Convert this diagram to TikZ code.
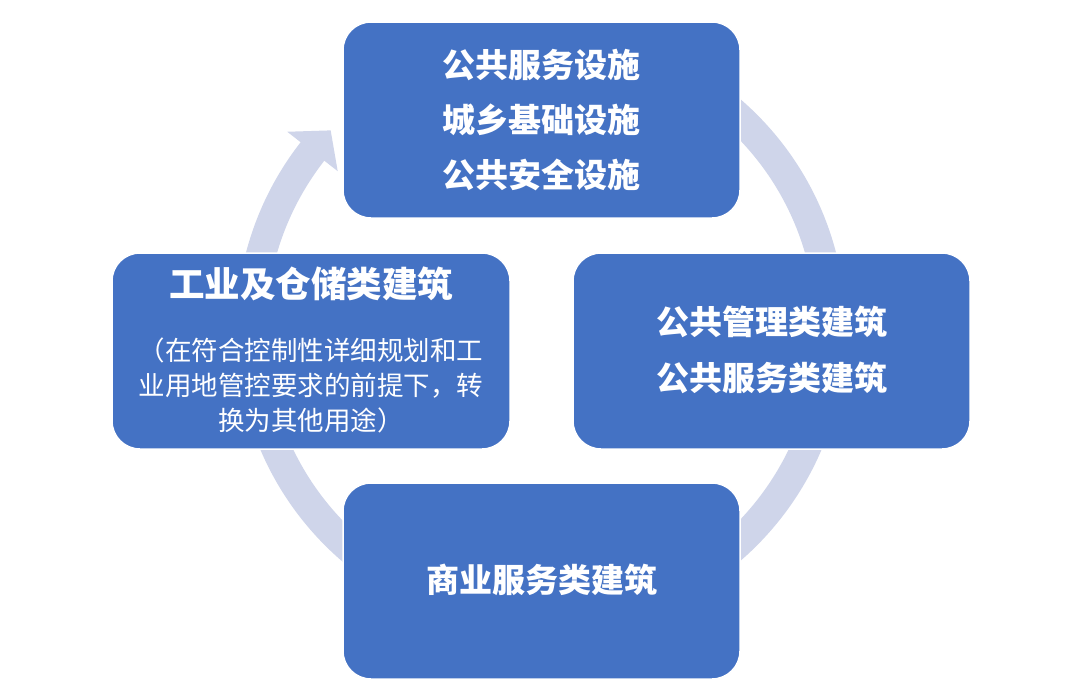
\documentclass[tikz,border=0pt]{standalone}
\usepackage{fontspec}
\setmainfont{Noto Sans CJK SC}
\usetikzlibrary{calc}
\definecolor{boxblue}{HTML}{4472C4}
\definecolor{ringc}{HTML}{CFD5EA}
\begin{document}
\begin{tikzpicture}[x=1pt,y=-1pt,
  card/.style={draw=white, line width=1.5pt, fill=boxblue, rounded corners=28pt},
  bigtxt/.style={text=white, inner sep=0pt, align=center, font=\fontsize{33}{55}\selectfont\bfseries},
  smalltxt/.style={text=white, inner sep=0pt, align=center, font=\fontsize{26.5}{35}\selectfont}]
\useasboundingbox[fill=white] (0,0) rectangle (1080,696);
% ring arrow
\coordinate (c) at (541,330);
\draw[ringc, line width=30pt] ($(c)+(-100:290)$) arc[start angle=-100, end angle=219, radius=290];
\fill[ringc] ($(c)+(218:258)$) -- ($(c)+(223.5:290)$) -- ($(c)+(218:322)$) -- cycle;
% boxes
\draw[card] (343,22) rectangle (740,218);
\draw[card] (573,253) rectangle (970,449);
\draw[card] (343,483) rectangle (740,679);
\draw[card] (112,253) rectangle (510,449);
% texts
\node[bigtxt] (ttop) at (541.5,120) {公共服务设施\\城乡基础设施\\公共安全设施};
\node[bigtxt, font=\fontsize{33}{56}\selectfont\bfseries] (tright) at (771.5,350) {公共管理类建筑\\公共服务类建筑};
\node[bigtxt] (tbot) at (541.5,580) {商业服务类建筑};
\node[bigtxt, font=\fontsize{35.5}{40}\selectfont\bfseries] (tleft) at (311,284) {工业及仓储类建筑};
\node[smalltxt] (tleftsub) at (311,385) {（在符合控制性详细规划和工\\业用地管控要求的前提下，转\\换为其他用途）};
\end{tikzpicture}
\end{document}
